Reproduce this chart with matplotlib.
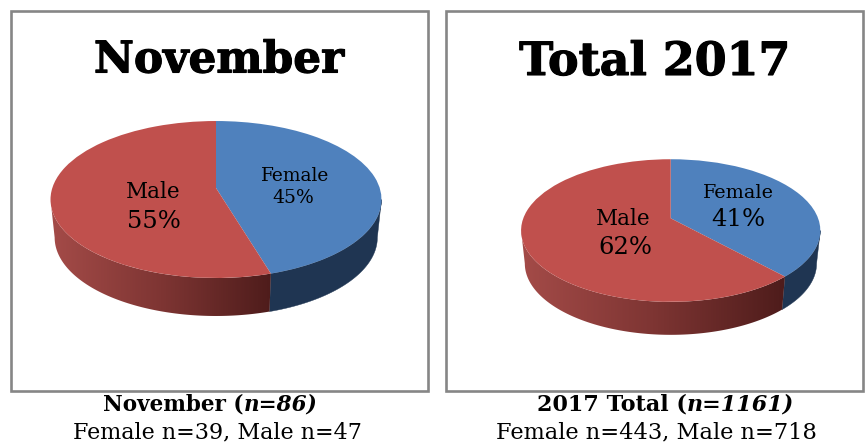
import numpy as np
import matplotlib
matplotlib.use("Agg")
import matplotlib.pyplot as plt
import matplotlib.patheffects as pe
from matplotlib.patches import Rectangle, Polygon
from matplotlib.transforms import Transform
from matplotlib.colors import LinearSegmentedColormap

# ---- data ----
categories = ["Female", "Male"]
november_counts = [39, 47]
total_counts = [443, 718]
november_pct_labels = ["45%", "55%"]
total_pct_labels = ["41%", "62%"]
titles = ["November", "Total 2017"]

BLUE, RED, BLUE_WALL = "#4F81BD", "#C0504D", "#1F3552"
RED_WALL = LinearSegmentedColormap.from_list("w", ["#A44B48", "#7E3533", "#4E1C1B"])
FRAME = "#868686"
SERIF = "DejaVu Serif"


class Perspective(Transform):
    """Tilted-disc projection of the unit circle onto pixel coordinates."""
    input_dims = output_dims = 2
    is_separable = False
    has_inverse = False

    def __init__(self, cx, cy, sx, sy, k, xscale=1.0, dy=0.0):
        super().__init__()
        self.p = (cx, cy, sx, sy, k, xscale, dy)

    def transform_non_affine(self, v):
        cx, cy, sx, sy, k, xs, dy = self.p
        v = np.asarray(v, float)
        w = 1 + k * v[:, 1]
        return np.column_stack([cx + sx * xs * v[:, 0] / w, cy + dy - sy * v[:, 1] / w])


def pie3d(ax, counts, cx, cy, sx, sy, k, depth):
    top = Perspective(cx, cy, sx, sy, k)
    bot = Perspective(cx, cy, sx, sy, k, xscale=0.975, dy=depth)
    frac = counts[0] / sum(counts)
    boundary = 2 * np.pi * frac          # clockwise from 12 o'clock
    edge = np.arccos(-k)                 # angle of the disc's widest point

    def strip(a, b):
        t = np.linspace(a, b, 160)
        pts = np.column_stack([np.sin(t), np.cos(t)])
        return np.vstack([top.transform_non_affine(pts), bot.transform_non_affine(pts[::-1])])

    ax.add_patch(Polygon(strip(edge, boundary), closed=True, fc=BLUE_WALL, ec=BLUE_WALL, lw=0.3, zorder=1))
    poly = strip(boundary, 2 * np.pi - edge)
    x0, x1 = poly[:, 0].min(), poly[:, 0].max()
    y0, y1 = poly[:, 1].min(), poly[:, 1].max()
    im = ax.imshow(np.linspace(0, 1, 256)[None, :], cmap=RED_WALL, extent=(x0, x1, y1, y0),
                   aspect="auto", zorder=1, interpolation="bilinear")
    clip = Polygon(poly, closed=True, transform=ax.transData, fc="none", ec="none")
    ax.add_patch(clip)
    im.set_clip_path(clip)

    wedges, _ = ax.pie(counts, colors=[BLUE, RED], startangle=90, counterclock=False, radius=1.0)
    for w in wedges:
        w.set_transform(top + ax.transData)
        w.set_zorder(2)
        w.set_linewidth(0)


fig = plt.figure(figsize=(8.66, 4.46), dpi=100, facecolor="white")
ax = fig.add_axes([0, 0, 1, 1])

pie3d(ax, november_counts, 216, 188, 163.7, 76.8, 0.1466, 38)
pie3d(ax, total_counts, 670.7, 218.3, 147.4, 69.2, 0.1716, 33)

ax.set_aspect("auto")
ax.set_xlim(0, 866)
ax.set_ylim(446, 0)
ax.axis("off")

for x0, x1 in [(10.5, 428), (446, 862.5)]:
    ax.add_patch(Rectangle((x0, 11), x1 - x0, 379.5, fc="none", ec=FRAME, lw=1.9, zorder=3))

def t(x, y, s, size, **kw):
    kw.setdefault("ha", "center")
    return ax.text(x, y, s, fontsize=size, family=SERIF, va="center", color="black", zorder=5, **kw)

for tt in (t(219, 60, titles[0], 31.5, weight="bold"), t(655, 62, titles[1], 33, weight="bold")):
    tt.set_path_effects([pe.withStroke(linewidth=0.8, foreground="black")])

t(295, 176, categories[0], 13.4)
t(293, 198, november_pct_labels[0], 13.5)
t(153, 192, categories[1], 15.5)
t(154, 221, november_pct_labels[1], 17.5)
t(738, 193, categories[0], 13.8)
t(738, 220, total_pct_labels[0], 17.5)
t(623, 219, categories[1], 15.5)
t(625, 248, total_pct_labels[1], 17.5)

t(243.5, 405, "November (", 15.5, weight="bold", ha="right")
t(243.5, 405, "n=86)", 15.5, weight="bold", style="italic", ha="left")
t(217.5, 432, f"{categories[0]} n={november_counts[0]}, {categories[1]} n={november_counts[1]}", 16)
t(686.5, 405, "2017 Total (", 16, weight="bold", ha="right")
t(686.5, 405, "n=1161)", 16, weight="bold", style="italic", ha="left")
t(656.5, 432, f"{categories[0]} n={total_counts[0]}, {categories[1]} n={total_counts[1]}", 16.2)

fig.savefig("out.png", dpi=100, facecolor="white")
